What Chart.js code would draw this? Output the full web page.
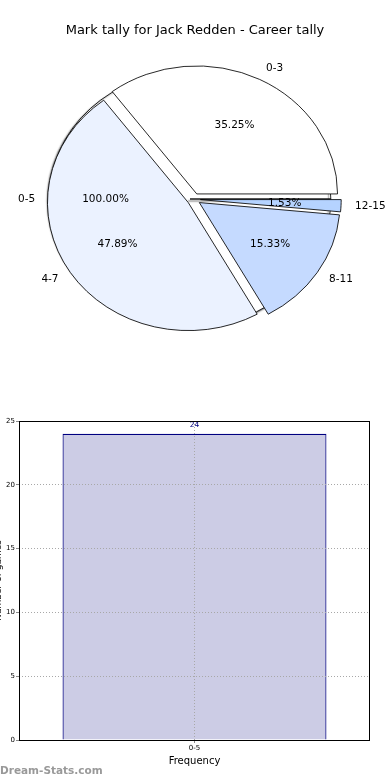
<!DOCTYPE html>
<html><head><meta charset="utf-8">
<script src="https://cdn.jsdelivr.net/npm/chart.js@4/dist/chart.umd.min.js"></script>
<style>
html,body{margin:0;padding:0;background:#fff;width:390px;height:780px;overflow:hidden;font-family:"DejaVu Sans",sans-serif;}
#title{position:absolute;left:0;top:22px;width:390px;text-align:center;font-size:13px;line-height:16px;color:#000;}
.pie{position:absolute;left:0;top:0;}
#barCanvas{position:absolute;left:0;top:400px;}
#wm{position:absolute;left:0;top:763px;font-size:10.5px;line-height:14px;color:#999;font-weight:bold;}
</style></head>
<body>
<canvas id="bgPie" class="pie" width="390" height="400"></canvas>
<canvas id="frontPie" class="pie" width="390" height="400"></canvas>
<div id="title">Mark tally for Jack Redden - Career tally</div>
<canvas id="barCanvas" width="390" height="380"></canvas>
<div id="wm">Dream-Stats.com</div>
<script>
// ---- data ----
const pieCategories = ['0-3', '4-7', '8-11', '12-15'];
const pieValues = [35.25, 47.89, 15.33, 1.53];
const totalCategories = ['0-5'];
const totalValues = [24];
const barCategories = ['0-5'];
const barValues = [24];
const yTickValues = [0, 5, 10, 15, 20, 25];

const pieColors = ['#FFFFFF', '#EBF2FF', '#C5DAFF', '#B5D3FF'];

Chart.defaults.font.family = '"DejaVu Sans", sans-serif';
Chart.defaults.color = '#000';
Chart.defaults.animation = false;

const PIE_FONT = '10.5px "DejaVu Sans", sans-serif';

function arcCenter(arc, o) {
  const mid = (arc.startAngle + arc.endAngle) / 2;
  return {mid, cx: arc.x + Math.cos(mid) * o.explode * o.sx, cy: arc.y + Math.sin(mid) * o.explode};
}

function drawPieLabels(ctx, chart, o) {
  const meta = chart.getDatasetMeta(0);
  const data = chart.data.datasets[0].data;
  const total = data.reduce((a, b) => a + b, 0);
  ctx.save();
  ctx.font = PIE_FONT;
  ctx.fillStyle = '#000';
  ctx.textBaseline = 'middle';
  meta.data.forEach((arc, i) => {
    const {mid, cx, cy} = arcCenter(arc, o);
    const R = arc.outerRadius;
    const lx = cx + Math.cos(mid) * R * 1.1 * o.sx;
    const ly = cy + Math.sin(mid) * R * 1.1;
    ctx.textAlign = Math.cos(mid) > 0 ? 'left' : 'right';
    ctx.fillText(chart.data.labels[i], lx, ly);
    ctx.textAlign = 'center';
    ctx.fillText((data[i] / total * 100).toFixed(2) + '%',
      cx + Math.cos(mid) * R * 0.6 * o.sx, cy + Math.sin(mid) * R * 0.6);
  });
  ctx.restore();
}

const ellipsePie = {
  id: 'ellipsePie',
  beforeDatasetsDraw(chart, args, o) {
    const ctx = chart.ctx;
    const meta = chart.getDatasetMeta(0);
    meta.data.forEach((arc) => {
      const mid = (arc.startAngle + arc.endAngle) / 2;
      ctx.save();
      if (o.shadow) {
        ctx.shadowColor = o.shadow;
        ctx.shadowOffsetX = -2;
        ctx.shadowOffsetY = 2;
        ctx.shadowBlur = 1.5;
      }
      ctx.translate(arc.x, arc.y);
      ctx.scale(o.sx, 1);
      ctx.translate(-arc.x, -arc.y);
      ctx.translate(Math.cos(mid) * o.explode, Math.sin(mid) * o.explode);
      arc.draw(ctx);
      ctx.restore();
    });
    return false;
  },
  afterDraw(chart, args, o) {
    if (o.drawOwnLabels) drawPieLabels(chart.ctx, chart, o);
    if (o.extra) drawPieLabels(chart.ctx, o.extra.chart, o.extra.opts);
  }
};

const bgOpts = {sx: 1.1, explode: 0, shadow: 'rgba(0,0,0,0.5)', drawOwnLabels: false};
const bgChart = new Chart(document.getElementById('bgPie'), {
  type: 'pie',
  data: {
    labels: totalCategories,
    datasets: [{data: totalValues, backgroundColor: ['#FFFFFF'], borderColor: '#000', borderWidth: 0.8, radius: 128}]
  },
  options: {
    responsive: false,
    events: [],
    rotation: 90,
    layout: {padding: {left: 0, right: 10, top: 0, bottom: 2}},
    plugins: {legend: {display: false}, tooltip: {enabled: false}, ellipsePie: bgOpts}
  },
  plugins: [ellipsePie]
});

const frontOpts = {sx: 1.1, explode: 6, shadow: null, drawOwnLabels: true,
  extra: {chart: bgChart, opts: bgOpts}};
new Chart(document.getElementById('frontPie'), {
  type: 'pie',
  data: {
    labels: pieCategories.slice().reverse(),
    datasets: [{
      data: pieValues.slice().reverse(),
      backgroundColor: pieColors.slice().reverse(),
      borderColor: '#000', borderWidth: 0.8, radius: 128
    }]
  },
  options: {
    responsive: false,
    events: [],
    rotation: 90,
    layout: {padding: {left: 0, right: 2.4, top: 0, bottom: 1.4}},
    plugins: {legend: {display: false}, tooltip: {enabled: false}, ellipsePie: frontOpts}
  },
  plugins: [ellipsePie]
});

// ---- bar chart ----
const frame = {
  id: 'frame',
  afterDraw(chart) {
    const {ctx, chartArea: a} = chart;
    const meta = chart.getDatasetMeta(0);
    ctx.save();
    ctx.font = '7.5px "DejaVu Sans", sans-serif';
    ctx.fillStyle = '#00007F';
    ctx.textAlign = 'center';
    ctx.textBaseline = 'middle';
    meta.data.forEach((bar, i) => {
      ctx.fillText(String(chart.data.datasets[0].data[i]), bar.x, bar.y - 9);
    });
    ctx.strokeStyle = '#000';
    ctx.lineWidth = 1;
    ctx.strokeRect(Math.round(a.left) + 0.5, Math.round(a.top) + 0.5,
      Math.round(a.right - a.left) - 1, Math.round(a.bottom - a.top));
    ctx.restore();
  }
};

const gridStyle = {color: '#a8a8a8', lineWidth: 1, tickLength: 3, tickColor: '#888', z: 1};

new Chart(document.getElementById('barCanvas'), {
  type: 'bar',
  data: {
    labels: barCategories,
    datasets: [{
      data: barValues,
      backgroundColor: '#CCCCE5',
      borderColor: '#000080',
      borderWidth: 1.2,
      barPercentage: 0.752,
      categoryPercentage: 1
    }]
  },
  options: {
    responsive: false,
    events: [],
    layout: {padding: {left: 0, right: 20, top: 21, bottom: 0}},
    plugins: {legend: {display: false}, tooltip: {enabled: false}},
    scales: {
      x: {
        grid: Object.assign({offset: false, drawOnChartArea: true}, gridStyle),
        border: {display: false, dash: [1, 2]},
        ticks: {font: {size: 7}, padding: 1, color: '#000'},
        title: {display: true, text: 'Frequency', font: {size: 10}, padding: {top: 0, bottom: 13}, color: '#000'},
        afterFit(s) { s.height = 40; }
      },
      y: {
        min: 0, max: 25,
        afterBuildTicks(s) { s.ticks = yTickValues.map(v => ({value: v})); },
        grid: gridStyle,
        border: {display: false, dash: [1, 2]},
        ticks: {font: {size: 7}, padding: 1, color: '#000'},
        title: {display: true, text: 'Number of games', font: {size: 9}, padding: {top: -7, bottom: 0}, color: '#000'},
        afterFit(s) { s.width = 19; }
      }
    }
  },
  plugins: [frame]
});
</script>
</body></html>
